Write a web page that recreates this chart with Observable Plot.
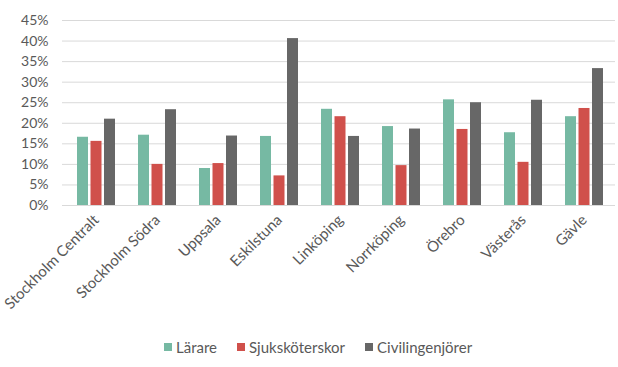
<!DOCTYPE html>
<html>
<head>
<meta charset="utf-8">
<script src="https://cdn.jsdelivr.net/npm/d3@7"></script>
<script src="https://cdn.jsdelivr.net/npm/@observablehq/plot@0.6"></script>
<style>
  html, body { margin: 0; padding: 0; background: #fff; }
  body { width: 618px; height: 367px; overflow: hidden; font-family: Lato, sans-serif; }
  #legend { display: flex; align-items: center; padding-left: 164px; margin-top: 7px; font-size: 15px; line-height: 20px; color: #595959; }
  #legend .item { display: flex; align-items: center; margin-right: 20px; }
  #legend .sw { width: 8px; height: 8px; margin-right: 4px; }
</style>
</head>
<body>
<div id="chart"></div>
<div id="legend"></div>
<script>
const cities = ["Stockholm Centralt", "Stockholm Södra", "Uppsala", "Eskilstuna", "Linköping", "Norrköping", "Örebro", "Västerås", "Gävle"];
const series = ["Lärare", "Sjuksköterskor", "Civilingenjörer"];
const colors = ["#76b9a3", "#d0504b", "#676767"];
const larare = [0.166, 0.171, 0.090, 0.168, 0.234, 0.192, 0.257, 0.177, 0.216];
const sjukskoterskor = [0.156, 0.100, 0.102, 0.072, 0.216, 0.097, 0.185, 0.105, 0.236];
const civilingenjorer = [0.210, 0.233, 0.169, 0.406, 0.168, 0.186, 0.250, 0.256, 0.333];
const yTicks = [0, 0.05, 0.10, 0.15, 0.20, 0.25, 0.30, 0.35, 0.40, 0.45];

const valuesBySeries = [larare, sjukskoterskor, civilingenjorer];
const data = [];
series.forEach((s, i) => cities.forEach((c, j) => data.push({city: c, series: s, value: valuesBySeries[i][j]})));

const barW = 11, gap = 2.5, groupW = 38;

const chart = Plot.plot({
  width: 618,
  height: 330,
  marginLeft: 63,
  marginRight: 1,
  marginTop: 20,
  marginBottom: 125,
  style: {fontFamily: "Lato, sans-serif", fontSize: "14px", color: "#595959", background: "#fff"},
  x: {domain: cities, paddingInner: 0.38, paddingOuter: 0.19, label: null, tickRotate: -45, tickSize: 0, tickPadding: 12},
  y: {domain: [0, 0.45], ticks: yTicks, tickFormat: d => Math.round(d * 100) + "%", label: null, tickSize: 0, tickPadding: 15},
  color: {domain: series, range: colors},
  marks: [
    Plot.ruleY(yTicks, {stroke: "#d9d9d9", strokeWidth: 1, insetLeft: -1, insetRight: 2}),
    ...series.map((s, i) => Plot.barY(data.filter(d => d.series === s), {
      x: "city", y: "value", fill: "series",
      insetLeft: (groupW - barW) / 2, insetRight: (groupW - barW) / 2,
      dx: (i - 1) * (barW + gap)
    }))
  ]
});
chart.querySelectorAll("text").forEach(t => t.setAttribute("fill", "#595959"));
chart.querySelectorAll("[aria-label='x-axis tick label'] text, g[aria-label='x-axis tick label']").forEach(g => g.setAttribute("font-size", "15"));
document.getElementById("chart").appendChild(chart);

const legend = document.getElementById("legend");
series.forEach((s, i) => {
  const item = document.createElement("div");
  item.className = "item";
  item.innerHTML = `<div class="sw" style="background:${colors[i]}"></div><span>${s}</span>`;
  legend.appendChild(item);
});
</script>
</body>
</html>
